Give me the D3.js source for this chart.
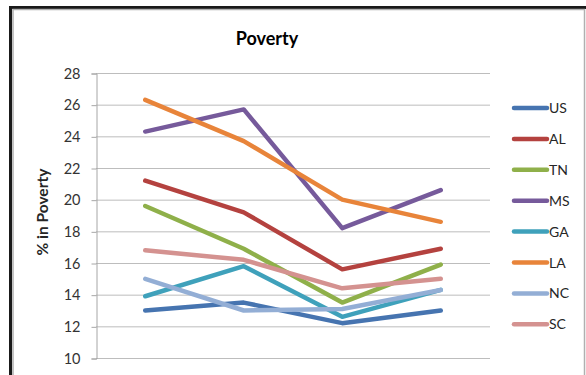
<!DOCTYPE html>
<html>
<head>
  <style>
    body { margin: 0; background: #fff; }
    text { font-family: Lato, "Open Sans", sans-serif; }
  </style>
</head>
<body>
  <script src="https://cdn.jsdelivr.net/npm/d3@7"></script>
  <script>
    // data (the category labels are cropped out of the picture)
    var categories = ["1", "2", "3", "4"];
    var states = ["US", "AL", "TN", "MS", "GA", "LA", "NC", "SC"];
    var US = [13.0, 13.5, 12.2, 13.0];
    var AL = [21.2, 19.2, 15.6, 16.9];
    var TN = [19.6, 16.9, 13.5, 15.9];
    var MS = [24.3, 25.7, 18.2, 20.6];
    var GA = [13.9, 15.8, 12.6, 14.3];
    var LA = [26.3, 23.7, 20.0, 18.6];
    var NC = [15.0, 13.0, 13.1, 14.3];
    var SC = [16.8, 16.2, 14.4, 15.0];
    var yTicks = [10, 12, 14, 16, 18, 20, 22, 24, 26, 28];

    var values = {US: US, AL: AL, TN: TN, MS: MS, GA: GA, LA: LA, NC: NC, SC: SC};
    var colors = {US: "#4674b0", AL: "#b4423f", TN: "#8fb04a", MS: "#765a9b",
                  GA: "#3fa1bb", LA: "#e8843a", NC: "#93aed5", SC: "#d49290"};

    var width = 586, height = 375;
    var plot = {left: 96, right: 490, top: 73, bottom: 358};

    var svg = d3.select("body").append("svg")
      .attr("width", width)
      .attr("height", height);

    // chart frame
    svg.append("rect").attr("x", 9).attr("y", 6).attr("width", 600).attr("height", 3).attr("fill", "#1a1a1a");
    svg.append("rect").attr("x", 9).attr("y", 6).attr("width", 3).attr("height", 400).attr("fill", "#1a1a1a");
    svg.append("rect")
      .attr("x", 13).attr("y", 9.5).attr("width", 571.5).attr("height", 400)
      .attr("fill", "none").attr("stroke", "#b0b0b0").attr("stroke-width", 1.5);

    var x = d3.scalePoint().domain(categories).range([plot.left, plot.right]).padding(0.5);
    var y = d3.scaleLinear().domain([10, 28]).range([plot.bottom, plot.top]);

    // gridlines
    svg.append("g").selectAll("line")
      .data(yTicks)
      .enter().append("line")
      .attr("x1", plot.left).attr("x2", plot.right)
      .attr("y1", function(d) { return y(d) + 0.5; })
      .attr("y2", function(d) { return y(d) + 0.5; })
      .attr("stroke", "#bdbdbd");

    // y axis
    var yAxis = d3.axisLeft(y).tickValues(yTicks).tickSize(5).tickPadding(11);
    var gy = svg.append("g")
      .attr("transform", "translate(" + (plot.left + 0.5) + ",0.5)")
      .call(yAxis);
    gy.select(".domain").attr("stroke", "#a6a6a6");
    gy.selectAll(".tick line").attr("stroke", "#a6a6a6");
    gy.selectAll(".tick text")
      .attr("font-family", "Lato, sans-serif")
      .attr("font-size", 14.5)
      .attr("fill", "#333");

    svg.append("text")
      .attr("transform", "translate(48,212) rotate(-90)")
      .attr("text-anchor", "middle")
      .attr("font-size", 15.5)
      .attr("font-weight", "bold")
      .attr("fill", "#262626")
      .text("% in Poverty");

    // title
    svg.append("text")
      .attr("x", 267).attr("y", 45)
      .attr("text-anchor", "middle")
      .attr("font-size", 18)
      .attr("font-weight", "bold")
      .attr("fill", "#000")
      .text("Poverty");

    // lines
    var line = d3.line()
      .x(function(d, i) { return x(categories[i]); })
      .y(function(d) { return y(d); });

    svg.append("g").selectAll("path")
      .data(states)
      .enter().append("path")
      .attr("d", function(s) { return line(values[s]); })
      .attr("fill", "none")
      .attr("stroke", function(s) { return colors[s]; })
      .attr("stroke-width", 4.5)
      .attr("stroke-linecap", "round")
      .attr("stroke-linejoin", "round");

    // legend
    var legend = svg.append("g").selectAll("g")
      .data(states)
      .enter().append("g")
      .attr("transform", function(s, i) { return "translate(0," + (108 + i * 30.9) + ")"; });

    legend.append("line")
      .attr("x1", 514).attr("x2", 547)
      .attr("stroke", function(s) { return colors[s]; })
      .attr("stroke-width", 4.5)
      .attr("stroke-linecap", "round");

    legend.append("text")
      .attr("x", 549).attr("y", 5)
      .attr("font-size", 14)
      .attr("fill", "#262626")
      .text(function(s) { return s; });
  </script>
</body>
</html>
